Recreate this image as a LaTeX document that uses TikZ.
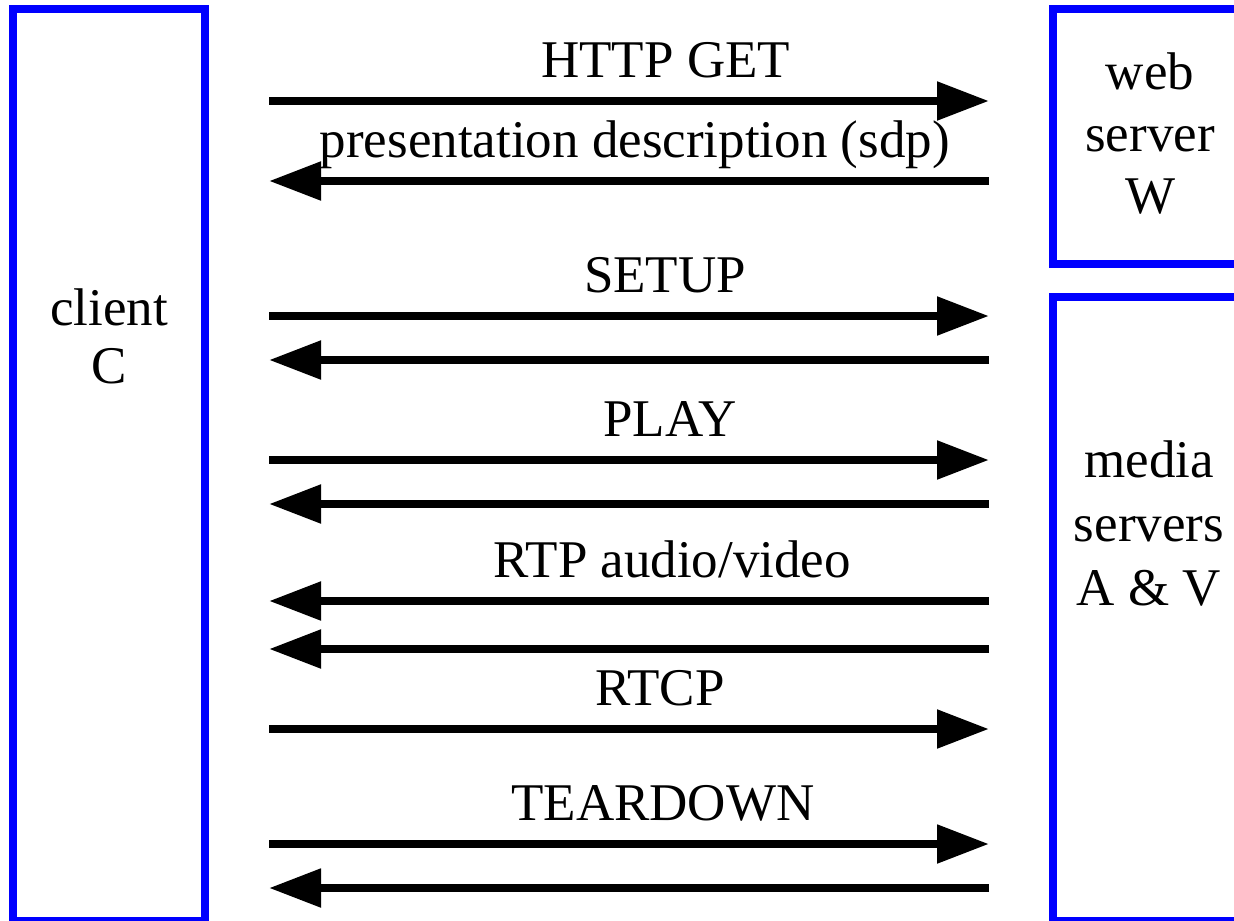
\documentclass[tikz,border=0pt]{standalone}
\usepackage{fontspec}
\setmainfont{Liberation Serif}
\usepackage{tikz}
\usetikzlibrary{arrows.meta}

\begin{document}
\begin{tikzpicture}[x=0.5pt, y=-0.5pt, line cap=butt, line join=miter,
		msg/.style={line width=4.2pt, -{Triangle[length=26pt, width=18.5pt]}},
		lbl/.style={anchor=base, yshift=12pt, inner sep=0pt, font=\fontsize{26.5}{31}\selectfont},
		srvbox/.style={draw=blue, line width=4pt},
		boxtxt/.style={align=center, inner sep=0pt, font=\fontsize{26.5}{31}\selectfont}]
	\useasboundingbox (0,0) rectangle (1234,920);
	
	% Boxes for client and servers
	\draw[srvbox] (13,9) rectangle (205,921);
	\draw[srvbox] (1053,9) rectangle (1260,264);
	\draw[srvbox] (1053,297) rectangle (1260,921);
	
	\node[boxtxt] (client) at (109,336) {client\\[-2pt]C};
	\node[boxtxt] (web) at (1150,134) {web\\server\\W};
	\node[boxtxt] (media) at (1149,524) {media\\[1pt]servers\\[1pt]A \& V};
	
	% End points of the messages
	\foreach \y [count=\i] in {101,181,316,360,460,504,601,649,729,844,888} {
		\coordinate (L\i) at (269,\y);
		\coordinate (R\i) at (989,\y);
	}
	
	% Messages
	\draw[msg] (L1) -- (R1) node[lbl, pos=0.551] {HTTP GET};
	\draw[msg] (R2) -- (L2) node[lbl, pos=0.492] {presentation description (sdp)};
	
	\draw[msg] (L3) -- (R3) node[lbl, pos=0.55] {SETUP};
	\draw[msg] (R4) -- (L4);
	
	\draw[msg] (L5) -- (R5) node[lbl, pos=0.557] {PLAY};
	\draw[msg] (R6) -- (L6);
	
	\draw[msg] (R7) -- (L7) node[lbl, pos=0.44] {RTP audio/video};
	\draw[msg] (R8) -- (L8);
	
	\draw[msg] (L9) -- (R9) node[lbl, pos=0.543] {RTCP};
	
	\draw[msg] (L10) -- (R10) node[lbl, pos=0.547] {TEARDOWN};
	\draw[msg] (R11) -- (L11);
\end{tikzpicture}
\end{document}
